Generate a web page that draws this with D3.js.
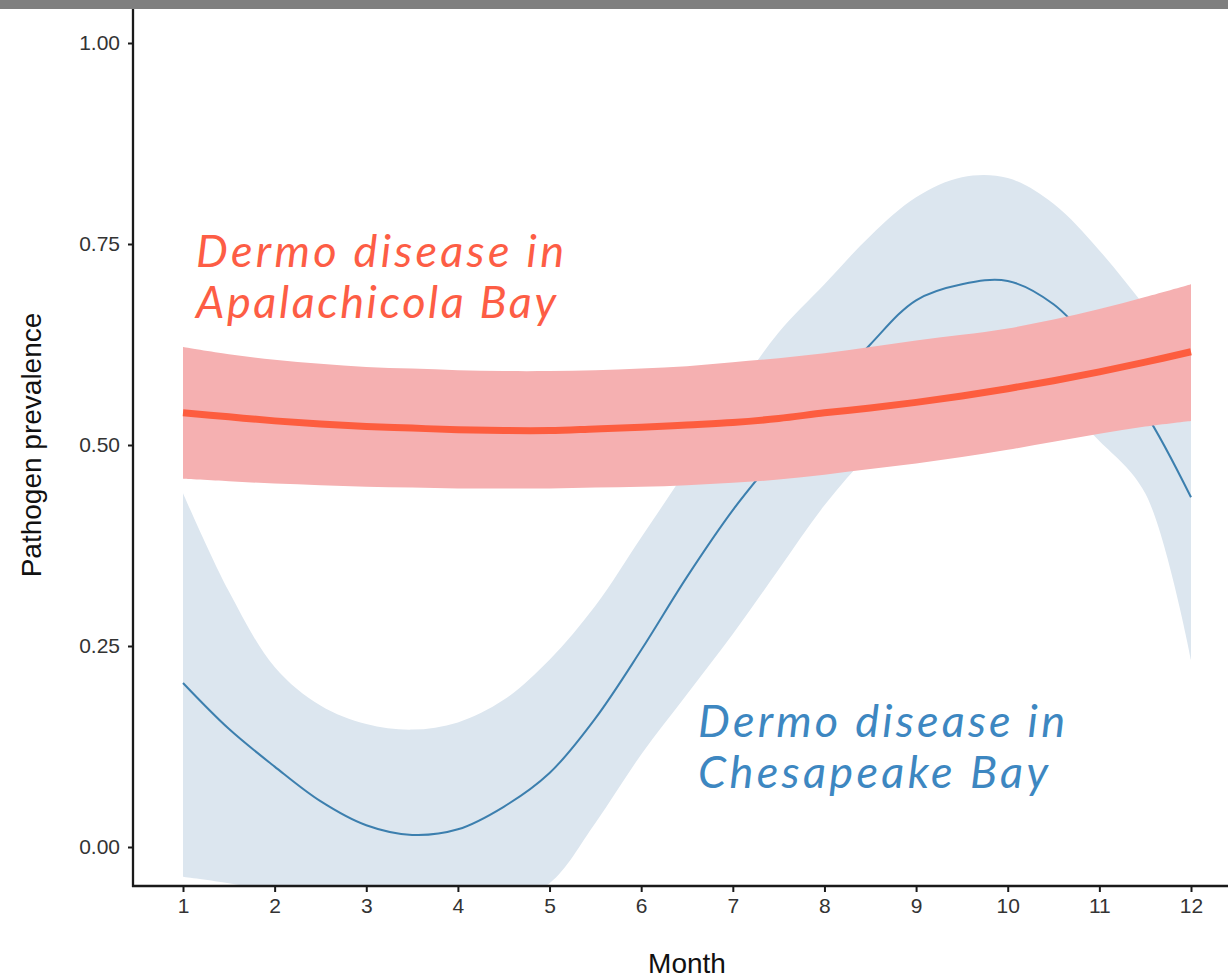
<!DOCTYPE html>
<html>
<head>
<meta charset="utf-8">
<script src="https://cdn.jsdelivr.net/npm/d3@7"></script>
<style>
  html, body { margin: 0; padding: 0; background: #fff; }
  svg { display: block; }
</style>
</head>
<body>
<svg id="chart" width="1228" height="980"></svg>
<script>
// ---- data ----
const months = [1, 1.5, 2, 2.5, 3, 3.5, 4, 4.5, 5, 5.5, 6, 6.5, 7, 7.5, 8, 8.5, 9, 9.5, 10, 10.5, 11, 11.5, 12];

const apalachicolaFit   = [0.540, 0.535, 0.530, 0.526, 0.523, 0.521, 0.519, 0.518, 0.518, 0.520, 0.522, 0.525, 0.528, 0.533, 0.540, 0.546, 0.553, 0.561, 0.570, 0.580, 0.591, 0.603, 0.616];
const apalachicolaUpper = [0.622, 0.613, 0.606, 0.601, 0.597, 0.595, 0.593, 0.592, 0.592, 0.593, 0.595, 0.598, 0.603, 0.608, 0.614, 0.622, 0.630, 0.637, 0.645, 0.656, 0.669, 0.684, 0.700];
const apalachicolaLower = [0.458, 0.455, 0.452, 0.450, 0.448, 0.447, 0.446, 0.446, 0.446, 0.447, 0.448, 0.450, 0.453, 0.457, 0.463, 0.470, 0.477, 0.485, 0.494, 0.504, 0.514, 0.523, 0.530];

const chesapeakeFit   = [0.204, 0.147, 0.100, 0.057, 0.027, 0.015, 0.022, 0.050, 0.092, 0.160, 0.245, 0.336, 0.419, 0.490, 0.560, 0.625, 0.680, 0.700, 0.704, 0.675, 0.615, 0.540, 0.435];
const chesapeakeUpper = [0.440, 0.318, 0.224, 0.176, 0.153, 0.146, 0.155, 0.183, 0.233, 0.300, 0.385, 0.470, 0.560, 0.640, 0.700, 0.760, 0.808, 0.833, 0.832, 0.800, 0.742, 0.672, 0.600];
const chesapeakeLower = [-0.037, -0.045, -0.055, -0.070, -0.090, -0.100, -0.090, -0.070, -0.045, 0.030, 0.115, 0.190, 0.265, 0.345, 0.425, 0.490, 0.540, 0.565, 0.572, 0.555, 0.505, 0.440, 0.233];

const xTicks = [1, 2, 3, 4, 5, 6, 7, 8, 9, 10, 11, 12];
const yTicks = [0, 0.25, 0.5, 0.75, 1.0];
const yTickLabels = ["0.00", "0.25", "0.50", "0.75", "1.00"];

const labelApalachicola = ["Dermo disease in", "Apalachicola Bay"];
const labelChesapeake = ["Dermo disease in", "Chesapeake Bay"];

// ---- layout ----
const svg = d3.select("#chart");
const W = 1228, H = 980;
const panel = { left: 133, right: 1228, top: 9, bottom: 886 };

const x = d3.scaleLinear().domain([1, 12]).range([183, 1191]);
const y = d3.scaleLinear().domain([0, 1]).range([847, 43]);

// top grey strip
svg.append("rect").attr("x", 0).attr("y", 0).attr("width", W).attr("height", 9).attr("fill", "#7f7f7f");

svg.append("clipPath").attr("id", "clip")
  .append("rect")
  .attr("x", panel.left).attr("y", panel.top)
  .attr("width", panel.right - panel.left).attr("height", panel.bottom - panel.top);

const plot = svg.append("g").attr("clip-path", "url(#clip)");

const curve = d3.curveCatmullRom.alpha(0.5);
const area = (lo, hi) => d3.area().curve(curve)
  .x((d, i) => x(months[i]))
  .y0((d, i) => y(lo[i]))
  .y1((d, i) => y(hi[i]))(months);
const line = (v) => d3.line().curve(curve)
  .x((d, i) => x(months[i]))
  .y((d, i) => y(v[i]))(months);

// Chesapeake (blue)
plot.append("path").attr("d", area(chesapeakeLower, chesapeakeUpper)).attr("fill", "#dce6ef");
plot.append("path").attr("d", line(chesapeakeFit)).attr("fill", "none")
  .attr("stroke", "#3c7fae").attr("stroke-width", 2);

// Apalachicola (red)
plot.append("path").attr("d", area(apalachicolaLower, apalachicolaUpper)).attr("fill", "#f5b0b1");
plot.append("path").attr("d", line(apalachicolaFit)).attr("fill", "none")
  .attr("stroke", "#fd5d3f").attr("stroke-width", 7);

// ---- axes ----
const yAxis = d3.axisLeft(y).tickValues(yTicks)
  .tickFormat((d, i) => yTickLabels[i]).tickSize(5).tickPadding(8);
const gy = svg.append("g").attr("transform", `translate(${panel.left},0)`).call(yAxis);
gy.select(".domain").remove();
gy.append("line").attr("x1", 0).attr("x2", 0).attr("y1", panel.top).attr("y2", panel.bottom + 1)
  .attr("stroke", "#1a1a1a").attr("stroke-width", 2.3);
gy.selectAll(".tick line").attr("stroke", "#1a1a1a").attr("stroke-width", 2);
gy.selectAll(".tick text").attr("font-family", "'Liberation Sans', Arial, sans-serif")
  .attr("font-size", 21).attr("fill", "#333");

const xAxis = d3.axisBottom(x).tickValues(xTicks).tickFormat(d3.format("d")).tickSize(6).tickPadding(6);
const gx = svg.append("g").attr("transform", `translate(0,${panel.bottom})`).call(xAxis);
gx.select(".domain").remove();
gx.append("line").attr("x1", panel.left - 1).attr("x2", panel.right).attr("y1", 0).attr("y2", 0)
  .attr("stroke", "#1a1a1a").attr("stroke-width", 2.3);
gx.selectAll(".tick line").attr("stroke", "#1a1a1a").attr("stroke-width", 2);
gx.selectAll(".tick text").attr("font-family", "'Liberation Sans', Arial, sans-serif")
  .attr("font-size", 21).attr("fill", "#333");

// axis titles
svg.append("text").attr("x", 687).attr("y", 973).attr("text-anchor", "middle")
  .attr("font-family", "'Liberation Sans', Arial, sans-serif").attr("font-size", 28).attr("fill", "#111")
  .text("Month");
svg.append("text").attr("transform", "translate(41,445) rotate(-90)").attr("text-anchor", "middle")
  .attr("font-family", "'Liberation Sans', Arial, sans-serif").attr("font-size", 28).attr("fill", "#111")
  .text("Pathogen prevalence");

// ---- annotations ----
function label(lines, widths, x0, y0, color) {
  const t = svg.append("text").attr("font-family", "Lato, 'Open Sans', sans-serif")
    .attr("font-style", "italic").attr("font-size", 45).attr("fill", color);
  lines.forEach((s, i) => {
    t.append("tspan").attr("x", x0).attr("y", y0 + i * 51)
      .attr("textLength", widths[i]).attr("lengthAdjust", "spacing").text(s);
  });
}
label(labelApalachicola, [368, 360], 196, 267, "#fd5d45");
label(labelChesapeake, [367, 350], 698, 737, "#3d87c1");
</script>
</body>
</html>
